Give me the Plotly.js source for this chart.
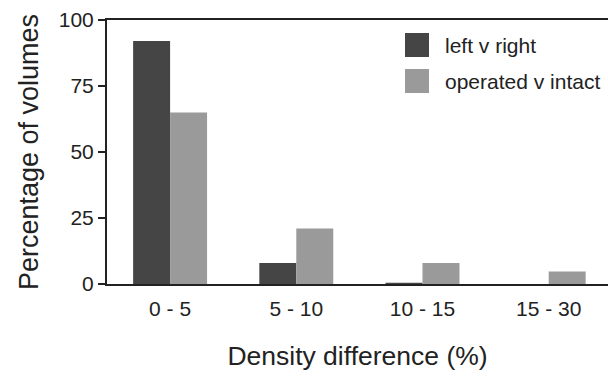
<!DOCTYPE html>
<html>
<head>
<meta charset="utf-8">
<script src="https://cdn.plot.ly/plotly-3.0.1.min.js"></script>
<style>html,body{margin:0;padding:0;background:#fff;overflow:hidden}</style>
</head>
<body>
<div id="chart" style="width:608px;height:378px"></div>
<script>
const categories = ["0 - 5", "5 - 10", "10 - 15", "15 - 30"];
const seriesNames = ["left v right", "operated v intact"];
const leftVRight = [92, 8, 0.5, 0];
const operatedVIntact = [65, 21, 8, 4.7];
const yTickVals = [0, 25, 50, 75, 100];
const colors = ["#454545", "#9a9a9a"];

const W = 608, H = 378;
const mL = 107, mR = 0, mT = 20, mB = 94;
const pw = W - mL - mR, ph = H - mT - mB;
const px = x => (x - mL) / pw;
const py = y => (H - mB - y) / ph;

const font = {family: "Liberation Sans, Arial, Helvetica, sans-serif", color: "#222"};

const traces = [
  {type: "bar", name: seriesNames[0], x: categories, y: leftVRight,
   marker: {color: colors[0]}, showlegend: false, hoverinfo: "x+y+name"},
  {type: "bar", name: seriesNames[1], x: categories, y: operatedVIntact,
   marker: {color: colors[1]}, showlegend: false, hoverinfo: "x+y+name"}
];

const legendTop = [33, 69];
const shapes = [], annotations = [];
seriesNames.forEach((n, i) => {
  shapes.push({type: "rect", xref: "paper", yref: "paper",
    x0: px(405), x1: px(429), y0: py(legendTop[i] + 24), y1: py(legendTop[i]),
    fillcolor: colors[i], line: {width: 0}});
  annotations.push({xref: "paper", yref: "paper", x: px(443), y: py(legendTop[i] + 12),
    xanchor: "left", yanchor: "middle", text: n, showarrow: false,
    font: Object.assign({size: 21}, font)});
});

const layout = {
  width: W, height: H,
  margin: {l: mL, r: mR, t: mT, b: mB, pad: 0},
  paper_bgcolor: "#fff", plot_bgcolor: "#fff",
  font: Object.assign({size: 21}, font),
  barmode: "group", bargap: 0.414, bargroupgap: 0,
  showlegend: false,
  xaxis: {
    type: "category", range: [-0.5, 3.47],
    showline: true, linecolor: "#222", linewidth: 2, mirror: true,
    ticks: "outside", ticklen: 5, tickcolor: "rgba(0,0,0,0)",
    tickfont: Object.assign({size: 21}, font),
    showgrid: false, zeroline: false,
    title: {text: "Density difference (%)", font: Object.assign({size: 26.5}, font), standoff: 27}
  },
  yaxis: {
    range: [0, 100], tickvals: yTickVals, ticktext: yTickVals.map(String),
    showline: true, linecolor: "#222", linewidth: 2,
    ticks: "outside", ticklen: 7, tickwidth: 2, tickcolor: "#222",
    tickfont: Object.assign({size: 21}, font),
    showgrid: false, zeroline: false,
    title: {text: "Percentage of volumes", font: Object.assign({size: 27}, font), standoff: 12}
  },
  shapes: shapes,
  annotations: annotations
};

Plotly.newPlot("chart", traces, layout, {displayModeBar: false, staticPlot: true});
</script>
</body>
</html>
